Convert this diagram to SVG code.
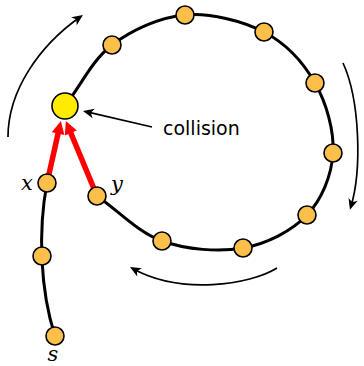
<svg xmlns="http://www.w3.org/2000/svg" width="364" height="366" viewBox="0 0 364 366">
<style>
.path{fill:none;stroke:#000;stroke-width:3;stroke-linecap:round}
.node{fill:#fcbf49;stroke:#000;stroke-width:1.6}
.coll{fill:#ffeb00;stroke:#000;stroke-width:1.6}
.red{fill:none;stroke:#ff0000;stroke-width:5.5;marker-end:url(#redhead)}
.flow{fill:none;stroke:#000;stroke-width:1.7;marker-end:url(#stealth)}
.lbl{font-family:"DejaVu Serif",serif;font-style:italic;font-size:21px;text-anchor:middle;fill:#000}
.txt{font-family:"DejaVu Sans",sans-serif;font-size:19px;fill:#000}
</style>
<defs>
<marker id="stealth" markerUnits="userSpaceOnUse" markerWidth="20" markerHeight="20" viewBox="-10 -10 20 20" refX="0" refY="0" orient="auto" overflow="visible">
<path d="M-8,-4.8 L3,0 L-8,4.8 L-5,0 z" fill="#000"/>
</marker>
<marker id="redhead" markerUnits="userSpaceOnUse" markerWidth="30" markerHeight="30" viewBox="-15 -15 30 30" refX="0" refY="0" orient="auto" overflow="visible">
<path d="M-3,-6.5 L10,0 L-3,6.5 z" fill="#ff0000"/>
</marker>
</defs>
<g id="connectors">
<path id="loop" class="path" d="M65,106 C80.7,85.7 92,60.2 112,45 C132,29.8 159.7,17.2 185,15 C210.3,12.8 242.3,20.7 264,32 C285.7,43.3 303.5,62.8 315,83 C326.5,103.2 334.3,131 333,153 C331.7,175 322,199.2 307,215 C292,230.8 267.2,243.7 243,248 C218.8,252.3 186.3,249.7 162,241 C137.7,232.3 118.7,211 97,196"/>
<path id="tail" class="path" d="M55,336 C40,290 38,230 47,183"/>
<path id="red-x" class="red" d="M47,183 L58.7,130.7"/>
<path id="red-y" class="red" d="M97,196 L69.7,130.3"/>
<path id="pointer" class="flow" d="M152,127 L85.9,111.7"/>
<path id="arc-left" class="flow" d="M8,137 C8,90 40,45 80.5,16.7"/>
<path id="arc-right" class="flow" d="M343,63 C360,100 362,170 350.8,207"/>
<path id="arc-bottom" class="flow" d="M277,268 C250,285 180,295 132.6,268.5"/>
</g>
<g id="n-collision"><circle class="coll" cx="65" cy="106" r="13"/></g>
<g id="n1"><circle class="node" cx="112" cy="45" r="9"/></g>
<g id="n2"><circle class="node" cx="185" cy="15" r="9"/></g>
<g id="n3"><circle class="node" cx="264" cy="32" r="9"/></g>
<g id="n4"><circle class="node" cx="315" cy="83" r="9"/></g>
<g id="n5"><circle class="node" cx="333" cy="153" r="9"/></g>
<g id="n6"><circle class="node" cx="307" cy="215" r="9"/></g>
<g id="n7"><circle class="node" cx="243" cy="248" r="9"/></g>
<g id="n8"><circle class="node" cx="162" cy="241" r="9"/></g>
<g id="n-y"><circle class="node" cx="97" cy="196" r="9"/><text class="lbl" x="117" y="191">y</text></g>
<g id="n-x"><circle class="node" cx="47" cy="183" r="9"/><text class="lbl" x="27" y="190">x</text></g>
<g id="n-mid"><circle class="node" cx="42" cy="256" r="9"/></g>
<g id="n-s"><circle class="node" cx="55" cy="336" r="9"/><text class="lbl" x="53" y="361">s</text></g>
<g id="label-collision"><text class="txt" x="163" y="135">collision</text></g>
</svg>
